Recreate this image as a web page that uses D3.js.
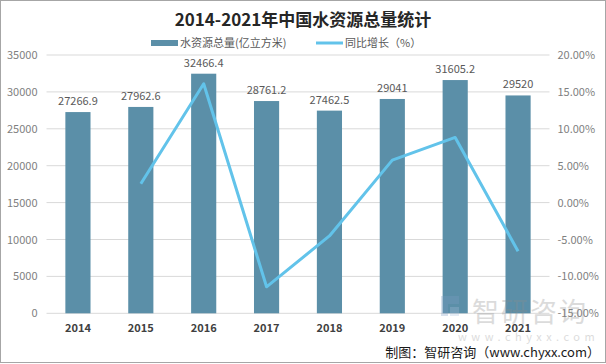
<!DOCTYPE html>
<html><head><meta charset="utf-8">
<script src="https://cdn.jsdelivr.net/npm/d3@7/dist/d3.min.js"></script>
<style>body{margin:0;background:#fff}svg{display:block}</style>
</head><body>
<svg id="c" width="606" height="364"></svg>
<script>
const years = ["2014","2015","2016","2017","2018","2019","2020","2021"];
const water = [27266.9, 27962.6, 32466.4, 28761.2, 27462.5, 29041, 31605.2, 29520];
const waterLabels = ["27266.9","27962.6","32466.4","28761.2","27462.5","29041","31605.2","29520"];
const growthYears = ["2015","2016","2017","2018","2019","2020","2021"];
const growth = [2.55, 16.11, -11.41, -4.52, 5.75, 8.83, -6.60];
const leftTicks = [0,5000,10000,15000,20000,25000,30000,35000];
const rightTicks = [-15,-10,-5,0,5,10,15,20];

const svg = d3.select("#c");
const font = "'Microsoft YaHei','Noto Sans CJK SC',sans-serif";
const L = 46.5, R = 549.5, T = 55, B = 313.3;

svg.append("rect").attr("x",0.5).attr("y",0.5).attr("width",605).attr("height",362)
  .attr("fill","#fff").attr("stroke","#a6a6a6");

const x = d3.scaleBand().domain(years).range([L,R]).paddingInner(0.6).paddingOuter(0.3);
const y = d3.scaleLinear().domain([0,35000]).range([B,T]);
const y2 = d3.scaleLinear().domain([-15,20]).range([B,T]);

// grid
svg.append("g").selectAll("line").data(leftTicks).join("line")
  .attr("x1",L).attr("x2",R).attr("y1",d=>y(d)).attr("y2",d=>y(d))
  .attr("stroke","#d9d9d9").attr("stroke-width",1);

// left axis
const la = svg.append("g").attr("transform",`translate(${L},0)`)
  .call(d3.axisLeft(y).tickValues(leftTicks).tickSize(0).tickPadding(9).tickFormat(d=>d));
la.select(".domain").remove();
la.selectAll("text").attr("fill","#7f7f7f").style("font-size","11px").style("font-family",font);

// right axis
const ra = svg.append("g").attr("transform",`translate(${R},0)`)
  .call(d3.axisRight(y2).tickValues(rightTicks).tickSize(0).tickPadding(8).tickFormat(d=>d.toFixed(2)+"%"));
ra.select(".domain").remove();
ra.selectAll("text").attr("fill","#7f7f7f").style("font-size","11px").style("font-family",font);

// bottom axis
const ba = svg.append("g").attr("transform",`translate(0,${B})`)
  .call(d3.axisBottom(x).tickSize(0).tickPadding(11));
ba.select(".domain").remove();
ba.selectAll("text").attr("fill","#404040").style("font-size","11px").style("font-weight","bold").style("font-family",font);

// bars
svg.append("g").selectAll("rect").data(years).join("rect")
  .attr("x",d=>x(d)).attr("width",x.bandwidth())
  .attr("y",(d,i)=>y(water[i])).attr("height",(d,i)=>B-y(water[i]))
  .attr("fill","#5b8fa8");

// watermark
const wm = svg.append("g").attr("opacity",0.3);
wm.append("rect").attr("x",441).attr("y",296).attr("width",7).attr("height",20).attr("fill","#7f9fc4");
wm.append("rect").attr("x",448).attr("y",296).attr("width",11).attr("height",8).attr("fill","#7f9fc4");
wm.append("rect").attr("x",450).attr("y",307).attr("width",9).attr("height",9).attr("fill","#a9bfdb");
wm.append("text").attr("x",472).attr("y",322).text("智研咨询").attr("fill","#8c8c8c")
  .style("font-size","27px").style("font-family",font).style("letter-spacing","2px");
wm.append("text").attr("x",458).attr("y",341).text("www.chyxx.com").attr("fill","#8c8c8c")
  .style("font-size","11px").style("font-family",font).style("letter-spacing","4.5px");

// bar labels
svg.append("g").selectAll("text").data(years).join("text")
  .attr("x",d=>x(d)+x.bandwidth()/2).attr("y",(d,i)=>y(water[i])-7)
  .attr("text-anchor","middle").attr("fill","#595959")
  .style("font-size","11px").style("font-family",font)
  .text((d,i)=>waterLabels[i]);

// line
const line = d3.line().x((d,i)=>x(growthYears[i])+x.bandwidth()/2).y(d=>y2(d));
svg.append("path").datum(growth).attr("d",line).attr("fill","none")
  .attr("stroke","#62c3ea").attr("stroke-width",3).attr("stroke-linejoin","round");

// title
svg.append("text").attr("x",303).attr("y",26).attr("text-anchor","middle")
  .attr("fill","#262626").style("font-size","17px").style("font-weight","bold").style("font-family",font)
  .text("2014-2021年中国水资源总量统计");

// legend
const lg = svg.append("g");
lg.append("rect").attr("x",151).attr("y",40).attr("width",27).attr("height",6).attr("fill","#5b8fa8");
lg.append("text").attr("x",180).attr("y",47).attr("fill","#595959").style("font-size","11px").style("font-family",font)
  .text("水资源总量(亿立方米)");
lg.append("line").attr("x1",316).attr("x2",343).attr("y1",43).attr("y2",43).attr("stroke","#62c3ea").attr("stroke-width",3);
lg.append("text").attr("x",345).attr("y",47).attr("fill","#595959").style("font-size","11px").style("font-family",font)
  .text("同比增长（%）");

// source
svg.append("text").attr("x",600).attr("y",357).attr("text-anchor","end").attr("fill","#1a1a1a")
  .style("font-size","13px").style("font-family",font)
  .text("制图：智研咨询（www.chyxx.com）");
</script>
</body></html>
